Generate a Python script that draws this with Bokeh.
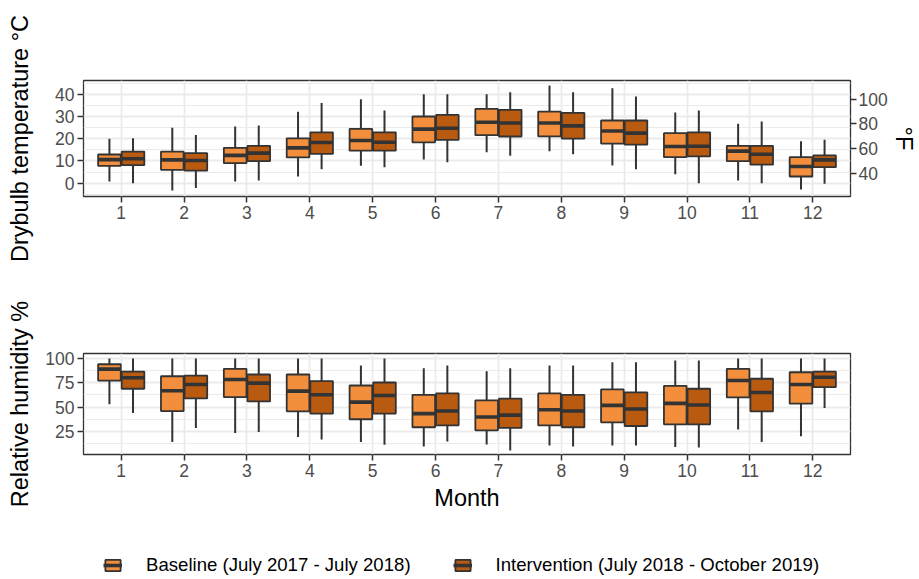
import math
from bokeh.plotting import figure
from bokeh.models import (ColumnDataSource, Range1d, LinearAxis, FixedTicker,
                          Legend, LegendItem)
from bokeh.layouts import column
from bokeh.embed import file_html
from bokeh.resources import INLINE

# ---------------- data ----------------
months = [1, 2, 3, 4, 5, 6, 7, 8, 9, 10, 11, 12]

# Drybulb temperature (°C): lower whisker, Q1, median, Q3, upper whisker
temp_base_lower = [0.8, -3.3, 0.8, 3.0, 7.8, 10.6, 13.9, 14.4, 8.0, 4.0, 1.2, -2.8]
temp_base_q1 = [7.8, 6.0, 9.0, 11.6, 14.6, 18.4, 21.6, 21.1, 17.8, 11.7, 9.9, 3.0]
temp_base_med = [10.6, 10.5, 12.5, 15.9, 19.2, 24.3, 27.4, 27.1, 23.5, 16.5, 14.4, 7.5]
temp_base_q3 = [12.9, 14.2, 15.9, 20.2, 24.4, 30.0, 33.4, 32.2, 28.2, 22.5, 16.8, 11.7]
temp_base_upper = [20.0, 24.9, 25.5, 32.1, 37.8, 40.0, 40.0, 43.9, 42.7, 31.8, 26.7, 18.9]

temp_int_lower = [0.0, -2.2, 1.2, 6.3, 7.2, 9.4, 12.3, 13.0, 6.3, 0.0, 0.0, -0.3]
temp_int_q1 = [8.1, 5.6, 9.9, 13.2, 14.6, 19.5, 21.0, 20.0, 17.3, 12.1, 8.3, 7.2]
temp_int_med = [11.0, 10.2, 13.5, 18.3, 18.4, 24.7, 27.1, 25.8, 22.5, 16.6, 13.0, 10.5]
temp_int_q3 = [14.2, 13.5, 16.8, 22.9, 22.9, 30.7, 33.0, 31.6, 28.2, 22.9, 16.8, 12.5]
temp_int_upper = [20.2, 21.7, 25.9, 36.1, 32.7, 40.0, 40.9, 40.9, 39.0, 32.7, 27.7, 19.5]

# Relative humidity (%)
rh_base_lower = [52.9, 14.4, 23.6, 19.5, 14.4, 9.7, 11.7, 10.7, 10.7, 9.3, 27.0, 20.2]
rh_base_q1 = [77.3, 46.0, 60.3, 45.7, 37.6, 29.4, 26.3, 31.4, 34.5, 32.4, 60.0, 53.6]
rh_base_med = [89.0, 66.8, 78.4, 66.4, 55.2, 43.4, 39.9, 47.4, 51.8, 53.9, 77.3, 73.3]
rh_base_q3 = [94.0, 81.7, 89.3, 83.5, 72.2, 62.7, 56.9, 64.1, 68.2, 71.9, 89.3, 85.8]
rh_base_upper = [100, 100, 100, 100, 92.7, 89.9, 86.8, 92.7, 96.0, 97.8, 100, 100]

rh_int_lower = [44.0, 28.7, 24.6, 16.8, 11.4, 14.8, 5.6, 9.7, 10.7, 8.7, 14.4, 49.1]
rh_int_q1 = [68.9, 59.0, 55.9, 43.4, 43.4, 31.4, 28.7, 29.4, 30.7, 32.4, 45.7, 70.5]
rh_int_med = [80.1, 73.3, 74.6, 62.7, 62.0, 46.0, 41.9, 46.0, 48.1, 52.2, 65.1, 80.7]
rh_int_q3 = [86.5, 82.4, 83.5, 76.6, 75.3, 64.1, 58.7, 62.7, 65.1, 68.9, 79.1, 86.5]
rh_int_upper = [100, 100, 100, 100, 100, 92.7, 89.9, 92.7, 96.0, 97.8, 100, 100]

temp_ticks = [0, 10, 20, 30, 40]
temp_minor = [-5, 5, 15, 25, 35, 45]
degf_ticks = [40, 60, 80, 100]
rh_ticks = [25, 50, 75, 100]
rh_minor = [12.5, 37.5, 62.5, 87.5]

series_labels = ["Baseline (July 2017 - July 2018)",
                 "Intervention (July 2018 - October 2019)"]

# ---------------- style ----------------
FONT = "Liberation Sans"
GRID = "#EBEBEB"
INK = "#333333"
TICK_TXT = "#4D4D4D"
BASE_FILL = "#F28E3C"
INT_FILL = "#B95A11"
DODGE = 0.1875
BOX_W = 0.36
X_START, X_END = 0.4, 12.6
W = 919


def make_source(offset, lower, q1, med, q3, upper):
    xs = [m + offset for m in months]
    return ColumnDataSource(dict(
        x=xs,
        x0=[x - BOX_W / 2 for x in xs],
        x1=[x + BOX_W / 2 for x in xs],
        lower=lower, q1=q1, med=med, q3=q3, upper=upper))


def draw(p, src, fill, visible=True):
    p.segment(x0="x", y0="q3", x1="x", y1="upper", source=src,
              line_color=INK, line_width=2, visible=visible)
    p.segment(x0="x", y0="lower", x1="x", y1="q1", source=src,
              line_color=INK, line_width=2, visible=visible)
    box = p.vbar(x="x", width=BOX_W, top="q3", bottom="q1", source=src,
                 fill_color=fill, line_color=INK, line_width=1.8,
                 visible=visible)
    med = p.segment(x0="x0", y0="med", x1="x1", y1="med", source=src,
                    line_color=INK, line_width=3.6, visible=visible)
    return box, med


def style_axis(ax):
    ax.axis_line_color = None
    ax.major_tick_line_color = INK
    ax.major_tick_line_width = 1.5
    ax.major_tick_out = 6
    ax.major_tick_in = 0
    ax.minor_tick_line_color = None
    ax.major_label_text_font = FONT
    ax.major_label_text_font_size = "17.5px"
    ax.major_label_text_color = TICK_TXT
    ax.major_label_standoff = 3
    ax.axis_label_text_font = FONT
    ax.axis_label_text_font_size = "23.5px"
    ax.axis_label_text_font_style = "normal"
    ax.axis_label_text_color = "#000000"


def make_panel(height, top, bottom, y_range, yticks, yminor, right):
    p = figure(width=W, height=height, output_backend="svg",
               toolbar_location=None,
               x_range=Range1d(X_START, X_END), y_range=y_range,
               min_border_left=83, min_border_right=right,
               min_border_top=top, min_border_bottom=bottom)
    p.background_fill_color = "white"
    p.border_fill_color = "white"
    p.outline_line_color = INK
    p.outline_line_width = 1.3
    p.xaxis.ticker = FixedTicker(ticks=months)
    p.yaxis.ticker = FixedTicker(ticks=yticks, minor_ticks=yminor)
    style_axis(p.xaxis[0])
    style_axis(p.yaxis[0])
    p.xgrid.grid_line_color = GRID
    p.xgrid.grid_line_width = 1.8
    p.ygrid.grid_line_color = GRID
    p.ygrid.grid_line_width = 1.8
    p.ygrid.minor_grid_line_color = GRID
    p.ygrid.minor_grid_line_width = 1.0
    return p


# ---------------- top panel: temperature ----------------
C_LO, C_HI = -6.0, 46.2
p1 = make_panel(270, 80, 74, Range1d(C_LO, C_HI), temp_ticks, temp_minor, 66)
p1.yaxis[0].axis_label = "Drybulb temperature °C"
p1.yaxis[0].axis_label_standoff = 19
p1.extra_y_ranges = {"F": Range1d(C_LO * 1.8 + 32, C_HI * 1.8 + 32)}
ax_f = LinearAxis(y_range_name="F", ticker=FixedTicker(ticks=degf_ticks))
style_axis(ax_f)
ax_f.major_label_standoff = 2
ax_f.axis_label = "°F"
ax_f.axis_label_standoff = 0
p1.add_layout(ax_f, "right")

src_tb = make_source(-DODGE, temp_base_lower, temp_base_q1, temp_base_med,
                     temp_base_q3, temp_base_upper)
src_ti = make_source(DODGE, temp_int_lower, temp_int_q1, temp_int_med,
                     temp_int_q3, temp_int_upper)
draw(p1, src_tb, BASE_FILL)
draw(p1, src_ti, INT_FILL)

# ---------------- bottom panel: humidity ----------------
p2 = make_panel(283, 83, 99, Range1d(1.5, 105), rh_ticks, rh_minor, 66)
p2.yaxis[0].axis_label = "Relative humidity %"
p2.yaxis[0].axis_label_standoff = 9
p2.xaxis[0].axis_label = "Month"
p2.xaxis[0].axis_label_standoff = 5

draw(p2, make_source(-DODGE, rh_base_lower, rh_base_q1, rh_base_med,
                     rh_base_q3, rh_base_upper), BASE_FILL)
draw(p2, make_source(DODGE, rh_int_lower, rh_int_q1, rh_int_med,
                     rh_int_q3, rh_int_upper), INT_FILL)

# ---------------- legend strip (hidden renderers only supply key glyphs) ----------------
p3 = figure(width=W, height=24, output_backend="svg", toolbar_location=None,
            x_range=Range1d(1000, 1001), y_range=Range1d(1000, 1001),
            x_axis_type=None, y_axis_type=None, min_border=0)
p3.outline_line_color = None
p3.background_fill_color = "white"
p3.border_fill_color = "white"
p3.grid.visible = False
b_box, b_med = draw(p3, src_tb, BASE_FILL, visible=False)
i_box, i_med = draw(p3, src_ti, INT_FILL, visible=False)
legend = Legend(items=[LegendItem(label=series_labels[0], renderers=[b_box, b_med]),
                       LegendItem(label=series_labels[1], renderers=[i_box, i_med])],
                orientation="horizontal", location=(20, 1))
legend.glyph_width = 19
legend.glyph_height = 14
legend.label_standoff = 24
legend.spacing = 42
legend.padding = 0
legend.margin = 0
legend.border_line_color = None
legend.background_fill_alpha = 0
legend.inactive_fill_alpha = 0
legend.label_text_font = FONT
legend.label_text_font_size = "18.6px"
legend.label_text_color = "#000000"
p3.add_layout(legend)

layout = column(p1, p2, p3)
open("out.html", "w").write(file_html(layout, INLINE))
